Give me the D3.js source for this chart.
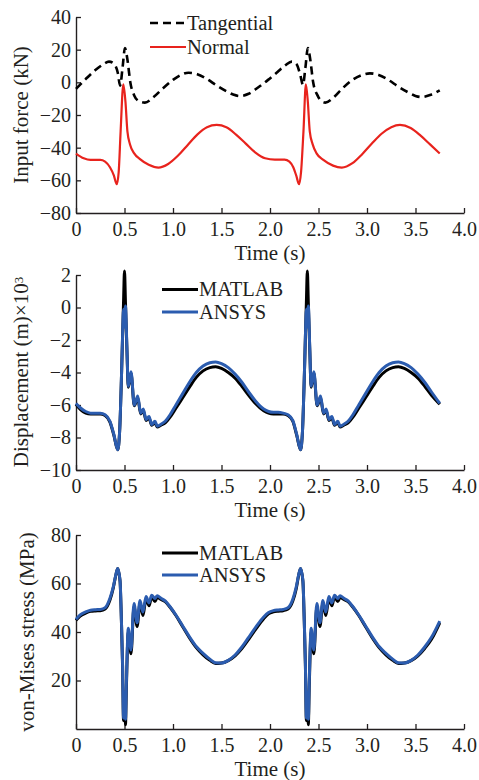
<!DOCTYPE html>
<html>
<head>
<meta charset="utf-8">
<script src="https://cdn.jsdelivr.net/npm/d3@7"></script>
<style>
  body { margin: 0; background: #fff; }
  svg text { font-family: "Liberation Serif", "Times New Roman", serif; fill: #231f20; }
</style>
</head>
<body>
<div id="chart"></div>
<script>
// ---- data ----
const xTicks = [0, 0.5, 1.0, 1.5, 2.0, 2.5, 3.0, 3.5, 4.0];

// input force (kN)
const tTan = [0, 0.1, 0.2, 0.28, 0.34, 0.39, 0.43, 0.455, 0.48, 0.505, 0.53, 0.56, 0.6, 0.65, 0.71, 0.8, 0.9, 1.0, 1.08, 1.16, 1.25, 1.35, 1.45, 1.55, 1.62, 1.69, 1.78, 1.88, 1.98, 2.08, 2.16, 2.225, 2.275, 2.31, 2.34, 2.365, 2.39, 2.415, 2.445, 2.49, 2.53, 2.57, 2.65, 2.75, 2.85, 2.95, 3.03, 3.12, 3.22, 3.32, 3.42, 3.5, 3.56, 3.65, 3.75];
const tangential = [-4, 2, 7.5, 11, 12.7, 11.5, 6, -2, 9, 21, 14, 0, -8, -11.5, -12.4, -9, -3.5, 1.5, 4.5, 5.9, 5, 2, -2, -5.5, -7.5, -8.4, -7, -3, 1.5, 6.5, 10.5, 12.7, 11, 5, -1.5, 9, 21, 14, 0, -8, -11.5, -12.4, -9.5, -3.5, 1.5, 4.5, 5.5, 4.5, 1.5, -2.5, -6, -8.3, -9, -7.8, -4.9];
const tNor = [0, 0.08, 0.15, 0.25, 0.3, 0.35, 0.39, 0.42, 0.44, 0.46, 0.488, 0.51, 0.53, 0.557, 0.6, 0.66, 0.75, 0.85, 0.95, 1.05, 1.15, 1.25, 1.35, 1.45, 1.55, 1.65, 1.75, 1.85, 1.95, 2.05, 2.15, 2.2, 2.24, 2.27, 2.3, 2.32, 2.345, 2.37, 2.39, 2.41, 2.44, 2.48, 2.55, 2.65, 2.74, 2.85, 2.95, 3.05, 3.15, 3.25, 3.34, 3.45, 3.55, 3.65, 3.75];
const normal = [-43.6, -46.5, -47.5, -47.5, -48.5, -52, -57, -62.4, -55, -30, -1.2, -12, -30, -38, -43.5, -47, -50.5, -52.2, -50, -45, -38.5, -32, -27.5, -26.1, -27.5, -32, -37.5, -43, -46.5, -47.3, -47.3, -48.5, -52, -57, -62.4, -55, -30, -1.2, -12, -30, -38, -43.5, -47.5, -51, -52.2, -49.5, -44, -37.5, -31.5, -27.5, -26.1, -28, -32.5, -38, -43.6];

// displacement (m x 10^3)
const tDisp = [0, 0.05, 0.1, 0.15, 0.2, 0.25, 0.3, 0.35, 0.39, 0.43, 0.45, 0.47, 0.48, 0.49, 0.5, 0.51, 0.525, 0.539, 0.567, 0.601, 0.636, 0.667, 0.694, 0.722, 0.753, 0.78, 0.814, 0.838, 0.873, 0.92, 0.97, 1.03, 1.1, 1.17, 1.24, 1.31, 1.38, 1.44, 1.5, 1.57, 1.64, 1.71, 1.78, 1.85,
  1.935, 1.985, 2.035, 2.085, 2.135, 2.185, 2.235, 2.275, 2.315, 2.335, 2.355, 2.365, 2.375, 2.385, 2.395, 2.41, 2.424, 2.452, 2.486, 2.521, 2.552, 2.579, 2.607, 2.638, 2.665, 2.699, 2.723, 2.758, 2.805, 2.855, 2.915, 2.985, 3.055, 3.125, 3.195, 3.265, 3.325, 3.385, 3.455, 3.525, 3.595, 3.665, 3.75];
const dispMatlab = [-5.95, -6.3, -6.5, -6.55, -6.55, -6.55, -6.65, -7.05, -7.85, -8.75, -7.6, -4.0, -1.8, 0.3, 2.25, 0.3, -2.6, -4.9, -4.05, -6.05, -5.55, -6.55, -6.35, -6.95, -6.8, -7.25, -7.1, -7.35, -7.25, -7.1, -6.75, -6.2, -5.55, -4.9, -4.3, -3.9, -3.7, -3.65, -3.75, -4.0, -4.35, -4.85, -5.4, -5.9,
  -6.35, -6.5, -6.55, -6.55, -6.55, -6.65, -7.0, -7.85, -8.75, -7.6, -4.0, -1.8, 0.3, 2.25, 0.3, -2.6, -4.9, -4.05, -6.05, -5.55, -6.55, -6.35, -6.95, -6.8, -7.25, -7.1, -7.35, -7.25, -7.1, -6.75, -6.2, -5.55, -4.9, -4.3, -3.9, -3.7, -3.65, -3.75, -4.0, -4.35, -4.85, -5.4, -5.95];
const dispAnsys = [-5.9, -6.2, -6.4, -6.5, -6.5, -6.5, -6.6, -7.0, -7.8, -8.75, -7.6, -4.0, -1.8, -0.1, -1.2, 0.1, -2.5, -4.85, -3.95, -6.0, -5.45, -6.5, -6.25, -6.9, -6.7, -7.2, -7.0, -7.3, -7.2, -7.0, -6.6, -6.0, -5.3, -4.6, -4.0, -3.6, -3.4, -3.35, -3.45, -3.7, -4.1, -4.6, -5.2, -5.75,
  -6.25, -6.4, -6.45, -6.45, -6.5, -6.6, -6.95, -7.8, -8.75, -7.6, -4.0, -1.8, -0.1, -1.2, 0.1, -2.5, -4.85, -3.95, -6.0, -5.45, -6.5, -6.25, -6.9, -6.7, -7.2, -7.0, -7.3, -7.2, -7.0, -6.6, -6.0, -5.3, -4.6, -4.0, -3.6, -3.4, -3.35, -3.45, -3.7, -4.1, -4.6, -5.2, -5.9];

// von-Mises stress (MPa)
const tStress = [0, 0.04, 0.1, 0.15, 0.2, 0.25, 0.3, 0.35, 0.385, 0.41, 0.43, 0.454, 0.468, 0.48, 0.49, 0.5, 0.51, 0.52, 0.539, 0.567, 0.598, 0.63, 0.66, 0.69, 0.722, 0.753, 0.78, 0.814, 0.838, 0.873, 0.92, 0.97, 1.03, 1.1, 1.17, 1.24, 1.31, 1.38, 1.44, 1.5, 1.57, 1.64, 1.71, 1.78, 1.85,
  1.935, 1.985, 2.035, 2.085, 2.135, 2.185, 2.235, 2.27, 2.295, 2.315, 2.339, 2.353, 2.365, 2.375, 2.385, 2.395, 2.405, 2.424, 2.452, 2.483, 2.515, 2.545, 2.575, 2.607, 2.638, 2.665, 2.699, 2.723, 2.758, 2.805, 2.855, 2.915, 2.985, 3.055, 3.125, 3.195, 3.265, 3.325, 3.385, 3.455, 3.525, 3.595, 3.665, 3.75];
const stressMatlab = [44.8, 46.5, 47.8, 48.5, 48.7, 48.8, 49.5, 53.2, 58.3, 63.3, 66.2, 61, 45, 26, 3.5, 12, 1.8, 18, 40, 31, 50.5, 42.3, 52, 46.8, 53.6, 50.8, 54.4, 52.6, 54.3, 53.5, 52.5, 50.2, 46.8, 42.2, 37.6, 33.6, 30.6, 28.3, 27, 27.2, 28.2, 30.2, 33.2, 37, 41,
  45.5, 47.5, 48.3, 48.6, 48.8, 49.5, 52.8, 57.8, 63.3, 66.2, 61, 45, 26, 3.5, 12, 1.8, 18, 40, 31, 50.5, 42.3, 52, 46.8, 53.6, 50.8, 54.4, 52.6, 54.3, 53.5, 52.5, 50.2, 46.8, 42.2, 37.6, 33.6, 30.6, 28.3, 27, 27.2, 28.2, 30.2, 33.2, 37, 43.8];
const stressAnsys = [45.2, 47, 48.3, 49, 49.2, 49.3, 50, 53.9, 58.7, 63.5, 66.2, 61.4, 45, 27, 4.5, 15, 4, 20, 41.5, 32.6, 51.8, 43.8, 53, 48.2, 54.6, 52, 55.2, 53.8, 55, 54, 52.8, 50.4, 47, 42.5, 38, 34, 31.2, 28.8, 27.3, 27.2, 28.3, 30.5, 33.8, 37.8, 41.8,
  46.2, 48, 48.8, 49.1, 49.3, 50, 53.5, 58.5, 63.5, 66.2, 61.4, 45, 27, 4.5, 15, 4, 20, 41.5, 32.6, 51.8, 43.8, 53, 48.2, 54.6, 52, 55.2, 53.8, 55, 54, 52.8, 50.4, 47, 42.5, 38, 34, 31.2, 28.8, 27.3, 27.2, 28.3, 30.5, 33.8, 37.8, 44.5];

// ---- drawing ----
const W = 479, H = 780;
const axisColor = "#231f20";
const serif = "'Liberation Serif', 'Times New Roman', serif";
const svg = d3.select("#chart").append("svg")
    .attr("width", W)
    .attr("height", H)
    .attr("font-family", serif);

const xScale = d3.scaleLinear().domain([0, 4]).range([76, 464]);

// one panel: axes + x label, returns the y scale
function drawPanel(top, bottom, yDomain, yTicks) {
  const yScale = d3.scaleLinear().domain(yDomain).range([bottom, top]);
  const g = svg.append("g");

  const xAxis = g.append("g")
      .attr("transform", "translate(0," + bottom + ")")
      .call(d3.axisBottom(xScale)
        .tickValues(xTicks)
        .tickSize(-5)
        .tickSizeOuter(0)
        .tickPadding(9)
        .tickFormat(d => d === 0 ? "0" : d.toFixed(1)));
  const yAxis = g.append("g")
      .attr("transform", "translate(76,0)")
      .call(d3.axisLeft(yScale)
        .tickValues(yTicks)
        .tickSize(-5)
        .tickSizeOuter(0)
        .tickPadding(5));

  [xAxis, yAxis].forEach(a => {
    a.attr("font-family", serif).attr("font-size", null);
    a.select(".domain").attr("stroke", axisColor).attr("stroke-width", 1.4);
    a.selectAll(".tick line").attr("stroke", axisColor).attr("stroke-width", 1.3);
    a.selectAll(".tick text").style("font-size", "20px").attr("fill", axisColor);
  });

  g.append("text")
      .attr("x", 270).attr("y", bottom + 47)
      .attr("text-anchor", "middle")
      .style("font-size", "21px")
      .text("Time (s)");
  return yScale;
}

function drawLine(yScale, ts, vs, color, width, dash) {
  svg.append("path")
      .datum(d3.zip(ts, vs))
      .attr("fill", "none")
      .attr("stroke", color)
      .attr("stroke-width", width)
      .attr("stroke-linejoin", "round")
      .attr("stroke-dasharray", dash || null)
      .attr("d", d3.line()
        .x(d => xScale(d[0]))
        .y(d => yScale(d[1]))
        .curve(d3.curveMonotoneX));
}

function legendItem(x, y, label, color, width, dash) {
  svg.append("line")
      .attr("x1", x).attr("x2", x + 36)
      .attr("y1", y).attr("y2", y)
      .attr("stroke", color)
      .attr("stroke-width", width)
      .attr("stroke-dasharray", dash || null);
  svg.append("text")
      .attr("x", x + 37).attr("y", y + 6.5)
      .style("font-size", "20.5px")
      .text(label);
}

function yLabel(x, y, build) {
  const t = svg.append("text")
      .attr("transform", "translate(" + x + "," + y + ") rotate(-90)")
      .attr("text-anchor", "middle")
      .attr("dy", "0.35em")
      .style("font-size", "21px");
  build(t);
}

const red = "#e8231d", blue = "#2b5caf";

// panel 1 - input force
const y1 = drawPanel(17, 213, [-80, 40], [-80, -60, -40, -20, 0, 20, 40]);
drawLine(y1, tNor, normal, red, 2.2);
drawLine(y1, tTan, tangential, "#000", 2.6, "8,5");
legendItem(150, 23, "Tangential", "#000", 2.6, "8,5");
legendItem(150, 47, "Normal", red, 2.2);
yLabel(21, 115, t => t.text("Input force (kN)"));

// panel 2 - displacement
const y2 = drawPanel(275, 470, [-10, 2], [-10, -8, -6, -4, -2, 0, 2]);
drawLine(y2, tDisp, dispMatlab, "#000", 3);
drawLine(y2, tDisp, dispAnsys, blue, 3);
legendItem(162, 289.5, "MATLAB", "#000", 3);
legendItem(162, 312, "ANSYS", blue, 3);
yLabel(21, 372, t => {
  t.append("tspan").text("Displacement (m)×10");
  t.append("tspan").attr("dy", "-0.45em").style("font-size", "13px").text("3");
});

// panel 3 - stress
const y3 = drawPanel(535, 729, [0, 80], [20, 40, 60, 80]);
drawLine(y3, tStress, stressMatlab, "#000", 3);
drawLine(y3, tStress, stressAnsys, blue, 3);
legendItem(162, 553, "MATLAB", "#000", 3);
legendItem(162, 575, "ANSYS", blue, 3);
yLabel(27, 632, t => t.text("von-Mises stress (MPa)"));
</script>
</body>
</html>
